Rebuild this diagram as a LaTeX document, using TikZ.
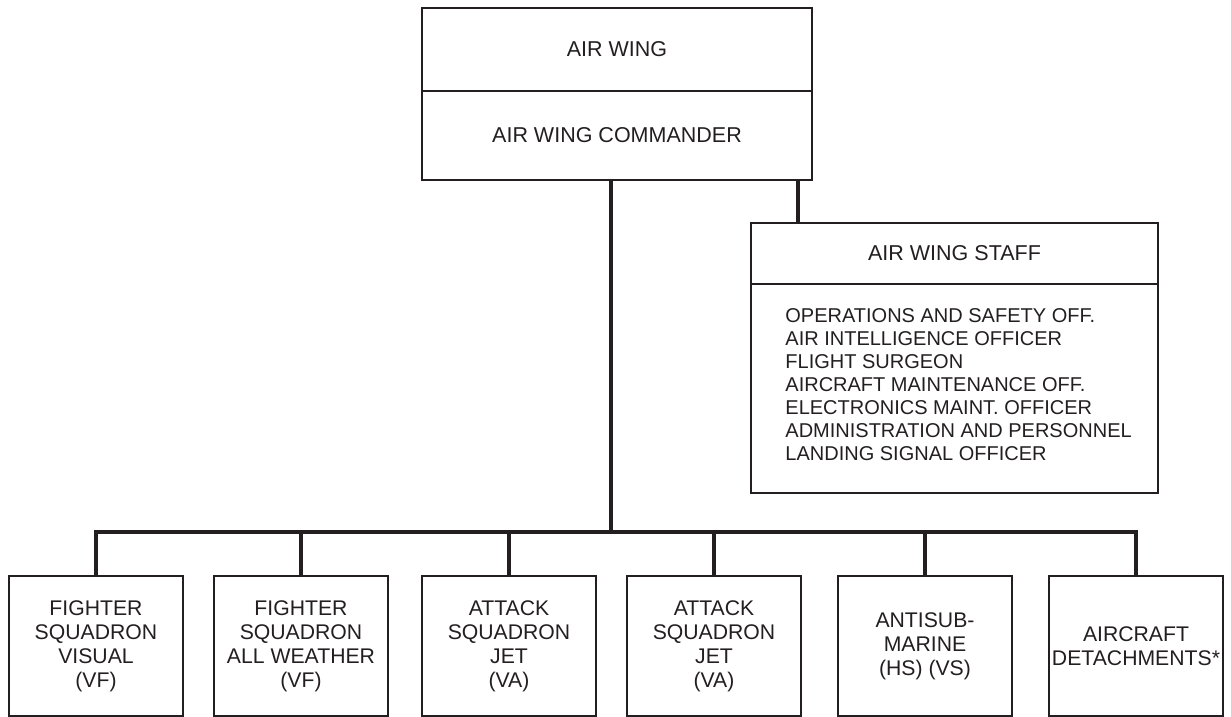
\documentclass[tikz,border=0pt]{standalone}
\usepackage{fontspec}
\setmainfont{Liberation Sans}
\usetikzlibrary{positioning}
\definecolor{ink}{HTML}{231F20}

\begin{document}
\begin{tikzpicture}[
  x=0.5pt, y=-0.5pt,
  head/.style={draw=ink, text=ink, line width=0.65pt, inner sep=0pt, minimum width=195pt, align=center, font=\fontsize{10.75}{12}\selectfont},
  staffbox/.style={draw=ink, text=ink, line width=0.65pt, inner sep=0pt, minimum width=203.5pt, align=center, font=\fontsize{10.75}{12}\selectfont},
  duties/.style={draw=ink, line width=0.65pt, inner sep=0pt, minimum width=203.5pt, minimum height=104.5pt},
  dutytext/.style={text=ink, inner sep=0pt, align=left, font=\fontsize{10}{11.5}\selectfont},
  unit/.style={draw=ink, text=ink, line width=0.65pt, inner sep=0pt, minimum width=87pt, minimum height=70pt, align=center, font=\fontsize{10.6}{12}\selectfont},
  link/.style={draw=ink, line width=1.65pt}
]
\useasboundingbox (0,0) rectangle (1231,717);

% --- air wing and commander ---
\node[head, minimum height=41.5pt] (wing) at (617,49.5) {AIR WING};
\node[head, minimum height=44.5pt] (cmdr) at (617,135.5) {AIR WING COMMANDER};

% --- staff ---
\node[staffbox, minimum height=30.5pt] (staff) at (954.5,253.5) {AIR WING STAFF};
\node[duties] (staffjobs) at (954.5,388.5) {};
\node[dutytext, anchor=north west] (dutylist) at (785,308)
  {OPERATIONS AND SAFETY OFF.\\AIR INTELLIGENCE OFFICER\\FLIGHT SURGEON\\AIRCRAFT MAINTENANCE OFF.\\ELECTRONICS MAINT. OFFICER\\ADMINISTRATION AND PERSONNEL\\LANDING SIGNAL OFFICER};

% --- squadrons ---
\node[unit] (vfvis) at (96,646)   {FIGHTER\\SQUADRON\\VISUAL\\(VF)};
\node[unit] (vfaw)  at (301,646)  {FIGHTER\\SQUADRON\\ALL WEATHER\\(VF)};
\node[unit] (vaone) at (509,646)  {ATTACK\\SQUADRON\\JET\\(VA)};
\node[unit] (vatwo) at (714,646)  {ATTACK\\SQUADRON\\JET\\(VA)};
\node[unit] (asw)   at (925,646)  {ANTISUB-\\MARINE\\(HS) (VS)};
\node[unit] (det)   at (1136,646) {AIRCRAFT\\DETACHMENTS*};

% --- connectors ---
\coordinate (trunk) at (611,532);
\coordinate (tap) at (798,200);
\draw[link] (cmdr.south -| trunk) -- (trunk);
\draw[link] (cmdr.south -| tap) -- (staff.north -| tap);
\draw[link] (vfvis.north) |- (det.north |- trunk) -- (det.north);
\draw[link] (vfaw.north)  -- (vfaw.north |- trunk);
\draw[link] (vaone.north) -- (vaone.north |- trunk);
\draw[link] (vatwo.north) -- (vatwo.north |- trunk);
\draw[link] (asw.north)   -- (asw.north |- trunk);
\end{tikzpicture}
\end{document}
